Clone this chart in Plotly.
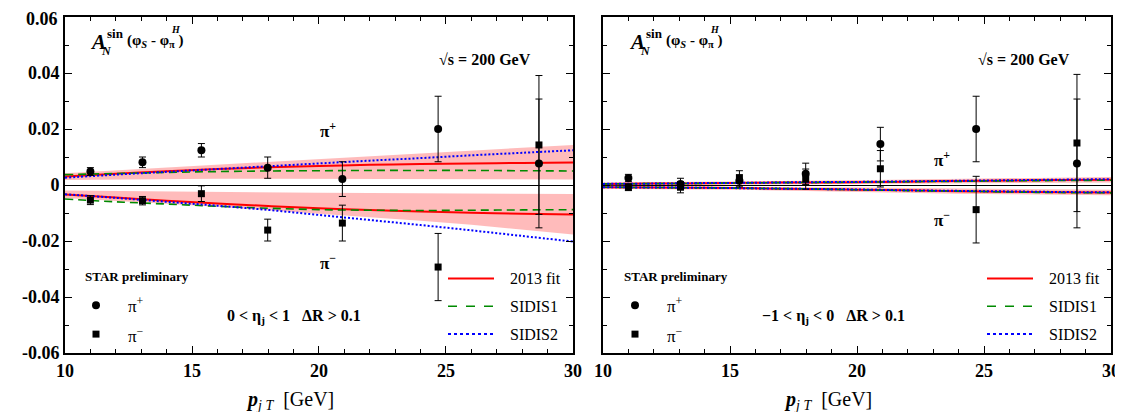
import plotly.graph_objects as go
from plotly.subplots import make_subplots

# ---------------- data ----------------
pT = [11.0, 13.05, 15.37, 17.98, 20.92, 24.69, 28.66]

# left panel (0 < eta_j < 1)
L_pip = [0.0048, 0.0081, 0.0124, 0.0062, 0.0021, 0.0200, 0.0077]
L_pip_err = [0.0014, 0.0019, 0.0024, 0.0038, 0.0062, 0.0117, 0.0230]
L_pim = [-0.0054, -0.0056, -0.0031, -0.0161, -0.0136, -0.0293, 0.0143]
L_pim_err = [0.0016, 0.0015, 0.0028, 0.0039, 0.0064, 0.0120, 0.0248]

# right panel (-1 < eta_j < 0)
R_pip = [0.0025, 0.0004, 0.0015, 0.0040, 0.0146, 0.0200, 0.0077]
R_pip_err = [0.0013, 0.0020, 0.0022, 0.0038, 0.0060, 0.0117, 0.0230]
R_pim = [-0.0008, -0.0008, 0.0024, 0.0021, 0.0058, -0.0088, 0.0150]
R_pim_err = [0.0012, 0.0020, 0.0027, 0.0036, 0.0065, 0.0119, 0.0245]

# theory curves
cx = [10, 12, 14, 16, 18, 20, 22, 24, 26, 28, 30]

L_fitP = [0.0030, 0.0040, 0.0049, 0.0057, 0.0063, 0.0068, 0.0072, 0.0075, 0.0077, 0.0079, 0.0080]
L_bandP_hi = [0.0042, 0.0052, 0.0062, 0.0072, 0.0082, 0.0092, 0.0102, 0.0112, 0.0122, 0.0133, 0.0143]
L_bandP_lo = [0.0018, 0.0020, 0.0021, 0.0022, 0.0022, 0.0022, 0.0022, 0.0022, 0.0021, 0.0021, 0.0020]
L_s1P = [0.0037, 0.0041, 0.0045, 0.0048, 0.0050, 0.0051, 0.0052, 0.0052, 0.0052, 0.0051, 0.0050]
L_s2P = [0.0026, 0.0037, 0.0047, 0.0057, 0.0067, 0.0077, 0.0087, 0.0096, 0.0106, 0.0115, 0.0124]

L_fitM = [-0.0034, -0.0045, -0.0056, -0.0066, -0.0075, -0.0083, -0.0089, -0.0095, -0.0099, -0.0103, -0.0105]
L_bandM_hi = [-0.0020, -0.0022, -0.0024, -0.0026, -0.0027, -0.0028, -0.0029, -0.0030, -0.0031, -0.0032, -0.0032]
L_bandM_lo = [-0.0046, -0.0056, -0.0066, -0.0078, -0.0090, -0.0102, -0.0115, -0.0128, -0.0142, -0.0159, -0.0177]
L_s1M = [-0.0050, -0.0060, -0.0068, -0.0076, -0.0083, -0.0088, -0.0090, -0.0091, -0.0090, -0.0089, -0.0088]
L_s2M = [-0.0033, -0.0046, -0.0060, -0.0074, -0.0089, -0.0107, -0.0125, -0.0143, -0.0162, -0.0182, -0.0202]

R_fitP = [0.0004, 0.0005, 0.0006, 0.0008, 0.0009, 0.0010, 0.0012, 0.0014, 0.0016, 0.0018, 0.0019]
R_bandP_hi = [0.0009, 0.0010, 0.0012, 0.0014, 0.0015, 0.0017, 0.0019, 0.0022, 0.0024, 0.0027, 0.0029]
R_bandP_lo = [-0.0001, 0.0000, 0.0000, 0.0002, 0.0003, 0.0003, 0.0005, 0.0006, 0.0008, 0.0009, 0.0009]
R_s1P = [0.0004, 0.0005, 0.0006, 0.0008, 0.0009, 0.0010, 0.0012, 0.0013, 0.0015, 0.0016, 0.0017]
R_s2P = [0.0004, 0.0005, 0.0007, 0.0008, 0.0010, 0.0011, 0.0013, 0.0015, 0.0017, 0.0019, 0.0021]

R_fitM = [-0.0008, -0.0009, -0.0010, -0.0012, -0.0014, -0.0017, -0.0019, -0.0022, -0.0024, -0.0026, -0.0027]
R_bandM_hi = [-0.0003, -0.0004, -0.0004, -0.0006, -0.0007, -0.0009, -0.0011, -0.0013, -0.0015, -0.0016, -0.0017]
R_bandM_lo = [-0.0013, -0.0014, -0.0016, -0.0018, -0.0021, -0.0025, -0.0027, -0.0031, -0.0033, -0.0036, -0.0037]
R_s1M = [-0.0008, -0.0009, -0.0010, -0.0012, -0.0014, -0.0017, -0.0020, -0.0022, -0.0025, -0.0027, -0.0028]
R_s2M = [-0.0008, -0.0009, -0.0010, -0.0012, -0.0014, -0.0016, -0.0019, -0.0021, -0.0023, -0.0025, -0.0026]

x_ticks = [10, 15, 20, 25, 30]
y_ticks = [-0.06, -0.04, -0.02, 0, 0.02, 0.04, 0.06]
y_tick_labels = ["-0.06", "-0.04", "-0.02", "0", "0.02", "0.04", "0.06"]

# ---------------- figure ----------------
W, H = 1123, 412
ML, MR, MT, MB = 57, 20, 7, 67
PW, PH = W - ML - MR, H - MT - MB
SERIF = "Liberation Serif"

fig = make_subplots(rows=1, cols=2, horizontal_spacing=0.0287)

BAND = "rgba(255,150,150,0.65)"
RED = "#ff0000"
GREEN = "#008a00"
BLUE = "#0000ff"


def add_panel(col, pv, pe, mv, me, fp, bph, bpl, s1p, s2p, fm, bmh, bml, s1m, s2m):
    for hi, lo in ((bph, bpl), (bmh, bml)):
        fig.add_trace(go.Scatter(x=cx, y=lo, mode="lines", line=dict(width=0), hoverinfo="skip",
                                 showlegend=False), row=1, col=col)
        fig.add_trace(go.Scatter(x=cx, y=hi, mode="lines", line=dict(width=0), fill="tonexty",
                                 fillcolor=BAND, hoverinfo="skip", showlegend=False), row=1, col=col)
    for ys in (fp, fm):
        fig.add_trace(go.Scatter(x=cx, y=ys, mode="lines", line=dict(color=RED, width=2, shape="spline"),
                                 showlegend=False), row=1, col=col)
    for ys in (s1p, s1m):
        fig.add_trace(go.Scatter(x=cx, y=ys, mode="lines",
                                 line=dict(color=GREEN, width=1.6, dash="8px,5px", shape="spline"),
                                 showlegend=False), row=1, col=col)
    for ys in (s2p, s2m):
        fig.add_trace(go.Scatter(x=cx, y=ys, mode="lines",
                                 line=dict(color=BLUE, width=2, dash="2px,2px", shape="spline"),
                                 showlegend=False), row=1, col=col)
    fig.add_trace(go.Scatter(x=pT, y=pv, mode="markers",
                             marker=dict(symbol="circle", size=8, color="black"),
                             error_y=dict(type="data", array=pe, color="black", thickness=1, width=3.5),
                             showlegend=False), row=1, col=col)
    fig.add_trace(go.Scatter(x=pT, y=mv, mode="markers",
                             marker=dict(symbol="square", size=7, color="black"),
                             error_y=dict(type="data", array=me, color="black", thickness=1, width=3.5),
                             showlegend=False), row=1, col=col)


add_panel(1, L_pip, L_pip_err, L_pim, L_pim_err, L_fitP, L_bandP_hi, L_bandP_lo, L_s1P, L_s2P,
          L_fitM, L_bandM_hi, L_bandM_lo, L_s1M, L_s2M)
add_panel(2, R_pip, R_pip_err, R_pim, R_pim_err, R_fitP, R_bandP_hi, R_bandP_lo, R_s1P, R_s2P,
          R_fitM, R_bandM_hi, R_bandM_lo, R_s1M, R_s2M)

axis_common = dict(showgrid=False, showline=True, linecolor="black", linewidth=2, mirror="ticks",
                   ticks="inside", ticklen=7, tickwidth=1.2, tickcolor="black",
                   tickfont=dict(family=SERIF, size=18, color="black"))
for col in (1, 2):
    fig.update_xaxes(range=[10, 30], tickvals=x_ticks, ticktext=[f"<b>{v}</b>" for v in x_ticks],
                     minor=dict(dtick=1, ticklen=4, ticks="inside", tickcolor="black"),
                     zeroline=False, **axis_common, row=1, col=col)
    fig.update_yaxes(range=[-0.06, 0.06], tickvals=y_ticks,
                     ticktext=[f"<b>{t}</b>" for t in y_tick_labels],
                     showticklabels=(col == 1),
                     minor=dict(dtick=0.01, ticklen=4, ticks="inside", tickcolor="black"),
                     zeroline=True, zerolinecolor="black", zerolinewidth=1, **axis_common, row=1, col=col)


def P(px, py):
    return (px - ML) / PW, (MT + PH - py) / PH


annotations = []
shapes = []


def txt(px, py, text, size=16, anchor="center", color="black", yanchor="middle"):
    x, y = P(px, py)
    annotations.append(dict(x=x, y=y, xref="paper", yref="paper", text=text, showarrow=False,
                            xanchor=anchor, yanchor=yanchor,
                            font=dict(family=SERIF, size=size, color=color)))


# top y tick label (sits at the very edge of the frame)
txt(52, 9, "<b>0.06</b>", 18, "right")

for off, cond in ((0, "<b>0 &lt; η<sub>j</sub> &lt; 1   ΔR &gt; 0.1</b>"),
                  (539, "<b>−1 &lt; η<sub>j</sub> &lt; 0   ΔR &gt; 0.1</b>")):
    # A_N label
    txt(80 + off, 32, "<b><i>A</i></b>", 21, "left")
    txt(91 + off, 41, "<b><i>N</i></b>", 12, "left")
    txt(97 + off, 24, "<b>sin</b>", 13, "left")
    txt(117 + off, 31, "<b>(φ<sub><i>S</i></sub> - φ<sub>π</sub> )</b>", 15, "left")
    txt(161 + off, 20, "<b><i>H</i></b>", 10, "left")
    txt(477 + off, 50, "<b>√s = 200 GeV</b>", 16)
    # legend block
    txt(75 + off, 268, "<b>STAR preliminary</b>", 13, "left")
    txt(118 + off, 297, "π<sup>+</sup>", 17, "left")
    txt(118 + off, 327, "π<sup>−</sup>", 17, "left")
    txt(286 + off, 308, cond, 16)
    for i, (name, color, dash, w) in enumerate((("2013 fit", RED, "solid", 2),
                                                 ("SIDIS1", GREEN, "dash", 1.6),
                                                 ("SIDIS2", BLUE, "dot", 2))):
        py = 270 + i * 28
        x0, y0 = P(440 + off, py)
        x1, _ = P(486 + off, py)
        shapes.append(dict(type="line", xref="paper", yref="paper", x0=x0, x1=x1, y0=y0, y1=y0,
                           line=dict(color=color, width=w, dash=dash)))
        txt(500 + off, py, name, 16, "left")
    # legend markers
    cxp, cyp = P(88 + off, 297)
    r = 4 / PW
    rh = 4 / PH
    shapes.append(dict(type="circle", xref="paper", yref="paper", x0=cxp - r, x1=cxp + r,
                       y0=cyp - rh, y1=cyp + rh, fillcolor="black", line=dict(width=0)))
    sxp, syp = P(88 + off, 326)
    r = 3.5 / PW
    rh = 3.5 / PH
    shapes.append(dict(type="rect", xref="paper", yref="paper", x0=sxp - r, x1=sxp + r,
                       y0=syp - rh, y1=syp + rh, fillcolor="black", line=dict(width=0)))

# pi labels
txt(320, 121, "<b>π<sup>+</sup></b>", 17)
txt(320, 253, "<b>π<sup>−</sup></b>", 17)
txt(934, 150, "<b>π<sup>+</sup></b>", 17)
txt(934, 210, "<b>π<sup>−</sup></b>", 17)

# x axis titles
for cpx in (282, 820):
    txt(cpx, 393, "<b><i>p</i></b><sub><i>j T</i></sub>  [GeV]", 20)

fig.update_layout(width=W, height=H, margin=dict(l=ML, r=MR, t=MT, b=MB),
                  paper_bgcolor="white", plot_bgcolor="white", showlegend=False,
                  annotations=annotations, shapes=shapes,
                  font=dict(family=SERIF, color="black"))

fig.write_html("out.html")
